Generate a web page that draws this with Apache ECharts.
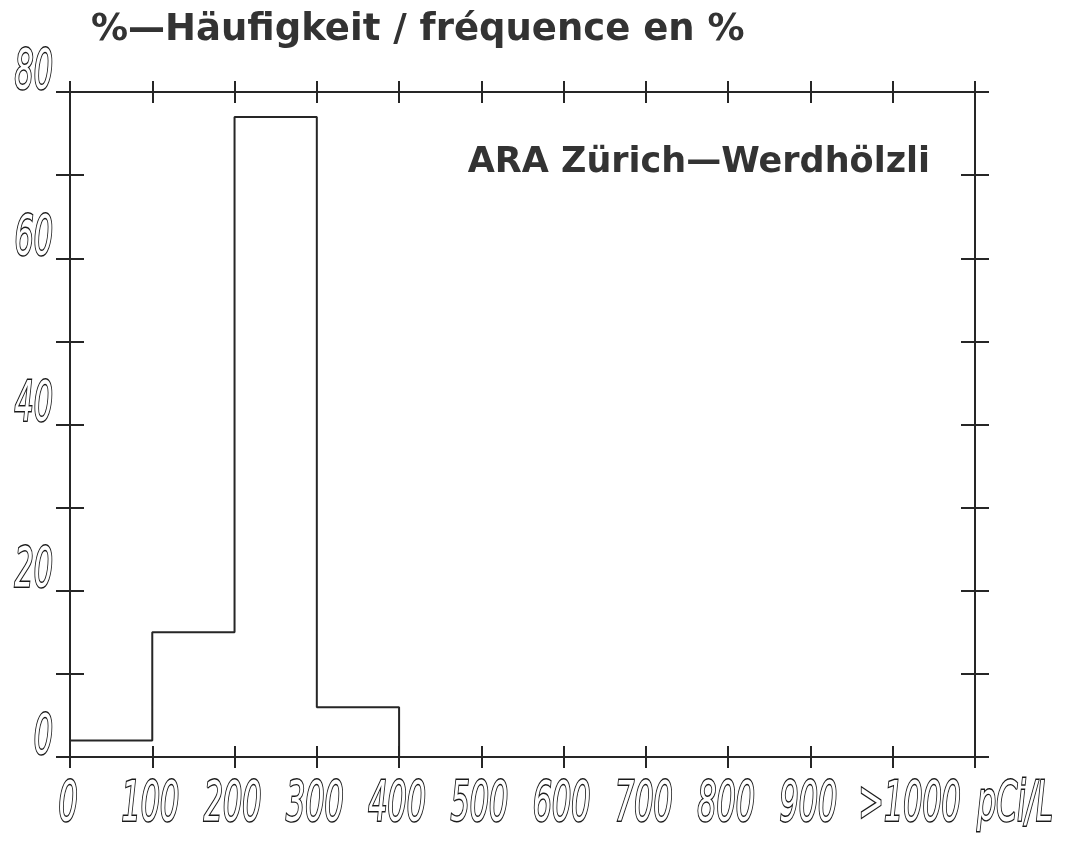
<!DOCTYPE html>
<html>
<head>
<meta charset="utf-8">
<title>ARA Zürich-Werdhölzli</title>
<script src="https://cdn.jsdelivr.net/npm/echarts@6/dist/echarts.min.js"></script>
<style>
  html, body { margin: 0; padding: 0; background: #fff; }
  #chart { width: 1086px; height: 844px; }
</style>
</head>
<body>
<div id="chart"></div>
<script>
// bin starts in pCi/L (last bin is ">1000")
const binStarts = [0, 100, 200, 300, 400, 500, 600, 700, 800, 900, 1000]
const binWidth = 100
// %-frequency per bin
const counts = [2, 15, 77, 6, 0, 0, 0, 0, 0, 0, 0]
const xTickValues = [0, 100, 200, 300, 400, 500, 600, 700, 800, 900, 1000]
const xTickLabels = ['0', '100', '200', '300', '400', '500', '600', '700', '800', '900', '>1000']
const yTickValues = [0, 20, 40, 60, 80]
const yTickLabels = ['0', '20', '40', '60', '80']

const ink = '#262626'

// histogram outline as a step path
const outline = [[0, 0]]
binStarts.forEach((x0, i) => {
  outline.push([x0, counts[i]])
  outline.push([x0 + binWidth, counts[i]])
})
outline.push([binStarts[binStarts.length - 1] + binWidth, 0])

const lineStyle = { color: ink, width: 2 }

function xAxisFor(position, inside) {
  return {
    type: 'value',
    position: position,
    min: 0,
    max: 1100,
    interval: 100,
    splitLine: { show: false },
    axisLine: { show: true, onZero: false, lineStyle: lineStyle },
    axisTick: { show: true, inside: inside, length: 11, lineStyle: lineStyle },
    axisLabel: { show: false }
  }
}

function yAxisFor(position, inside) {
  return {
    type: 'value',
    position: position,
    min: 0,
    max: 80,
    interval: 10,
    splitLine: { show: false },
    axisLine: { show: true, onZero: false, lineStyle: lineStyle },
    axisTick: { show: true, inside: inside, length: 14, lineStyle: lineStyle },
    axisLabel: { show: false }
  }
}

const headFont = { fontFamily: '"DejaVu Sans", "Liberation Sans", sans-serif', fontWeight: 'bold', fontSize: 37, color: '#333' }

const chart = echarts.init(document.getElementById('chart'))
chart.setOption({
  animation: false,
  backgroundColor: '#fff',
  title: [
    { text: '%—Häufigkeit / fréquence en %', left: 86, top: 7, textStyle: headFont },
    { text: 'ARA Zürich—Werdhölzli', right: 151, top: 140, textStyle: { ...headFont, fontSize: 35 } }
  ],
  grid: { left: 70, right: 111, top: 92, bottom: 87, containLabel: false },
  xAxis: [
    xAxisFor('bottom', false),
    xAxisFor('bottom', true),
    xAxisFor('top', false),
    xAxisFor('top', true)
  ],
  yAxis: [
    yAxisFor('left', false),
    yAxisFor('left', true),
    yAxisFor('right', false),
    yAxisFor('right', true)
  ],
  series: [
    {
      type: 'line',
      xAxisIndex: 0,
      yAxisIndex: 0,
      data: outline,
      symbol: 'none',
      lineStyle: lineStyle
    }
  ]
})

// plotter-style tick labels: tall, narrow, slanted, hollow strokes
function plotterText(text, x, y, align) {
  return {
    type: 'text',
    x: x,
    y: y,
    scaleX: 0.6,
    silent: true,
    style: {
      text: text,
      fontFamily: '"DejaVu Sans Condensed", "DejaVu Sans", sans-serif',
      fontStyle: 'italic',
      fontSize: 56,
      fill: '#fff',
      stroke: '#1a1a1a',
      lineWidth: 2.8,
      align: align,
      verticalAlign: 'middle'
    }
  }
}

const axisY0 = chart.convertToPixel({ yAxisIndex: 0 }, 0)
const axisX0 = chart.convertToPixel({ xAxisIndex: 0 }, 0)
const axisXEnd = chart.convertToPixel({ xAxisIndex: 0 }, 1100)
const labels = []
xTickValues.forEach((v, i) => {
  const px = chart.convertToPixel({ xAxisIndex: 0 }, v)
  const shift = xTickLabels[i].startsWith('>') ? 17 : -2
  labels.push(plotterText(xTickLabels[i], px + shift, axisY0 + 48, 'center'))
})
yTickValues.forEach((v, i) => {
  const py = chart.convertToPixel({ yAxisIndex: 0 }, v)
  labels.push(plotterText(yTickLabels[i], axisX0 - 17, py - 19, 'right'))
})
labels.push(plotterText('pCi/L', axisXEnd + 2, axisY0 + 48, 'left'))
chart.setOption({ graphic: labels })
</script>
</body>
</html>
